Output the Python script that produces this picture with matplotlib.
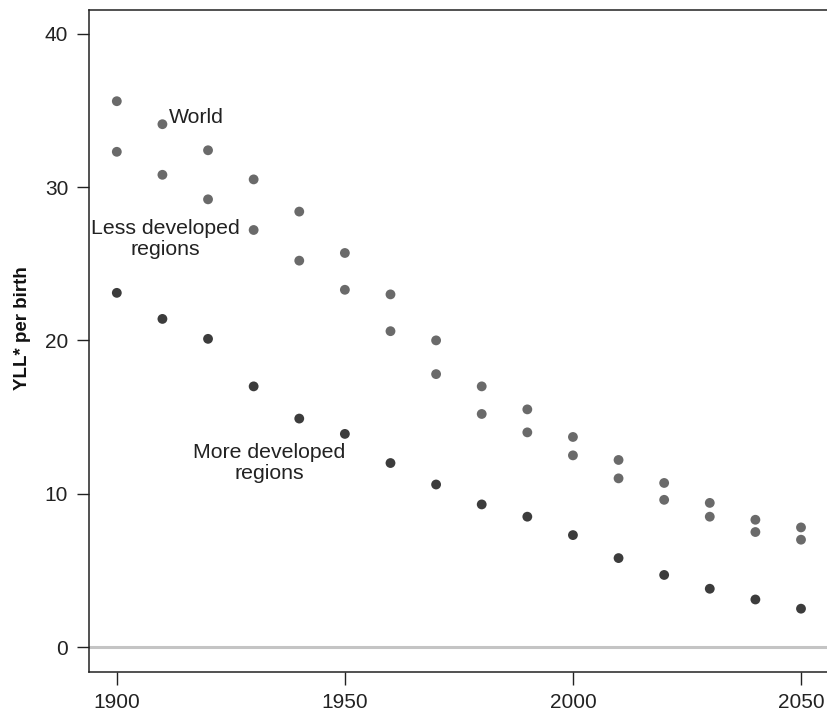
import matplotlib
matplotlib.use("Agg")
import matplotlib.pyplot as plt

plt.rcParams['font.family'] = ['Liberation Sans', 'DejaVu Sans']

# Data (YLL* per birth)
years = [1900, 1910, 1920, 1930, 1940, 1950, 1960, 1970, 1980, 1990,
         2000, 2010, 2020, 2030, 2040, 2050]
upper = [35.6, 34.1, 32.4, 30.5, 28.4, 25.7, 23.0, 20.0, 17.0, 15.5,
         13.7, 12.2, 10.7, 9.4, 8.3, 7.8]
middle = [32.3, 30.8, 29.2, 27.2, 25.2, 23.3, 20.6, 17.8, 15.2, 14.0,
          12.5, 11.0, 9.6, 8.5, 7.5, 7.0]
more_dev = [23.1, 21.4, 20.1, 17.0, 14.9, 13.9, 12.0, 10.6, 9.3, 8.5,
            7.3, 5.8, 4.7, 3.8, 3.1, 2.5]

fig = plt.figure(figsize=(8.27, 7.13), dpi=100)
ax = fig.add_axes([0.1076, 0.0575, 0.8924, 0.9285])

ax.axhline(0, color="#c4c4c4", lw=2.2, zorder=1)

ax.scatter(years, upper, s=50, color="#6a6a6a", edgecolors="none", zorder=3)
ax.scatter(years, middle, s=50, color="#6a6a6a", edgecolors="none", zorder=3)
ax.scatter(years, more_dev, s=50, color="#3c3c3c", edgecolors="none", zorder=3)

ax.text(1911.4, 34.55, "World", fontsize=15.3, ha="left", va="center", color="#222222")
ax.text(1910.7, 26.6, "Less developed\nregions", fontsize=15.3, ha="center", va="center",
        color="#222222", linespacing=1.15)
ax.text(1933.5, 12.0, "More developed\nregions", fontsize=15.3, ha="center", va="center",
        color="#222222", linespacing=1.15)

ax.set_xlim(1893.9, 2055.7)
ax.set_ylim(-1.63, 41.55)
ax.set_xticks([1900, 1950, 2000, 2050])
ax.set_yticks([0, 10, 20, 30, 40])
ax.tick_params(direction="out", length=9, width=1, labelsize=15, colors="#222222", pad=6)

ax.spines["right"].set_visible(False)
for side in ["left", "top", "bottom"]:
    ax.spines[side].set_linewidth(1.1)
    ax.spines[side].set_color("#222222")

ax.set_ylabel("YLL* per birth", fontsize=13.5, fontweight="bold", color="#111111")
ax.yaxis.set_label_coords(-0.078, 0.52)

fig.savefig("out.png", dpi=100)
